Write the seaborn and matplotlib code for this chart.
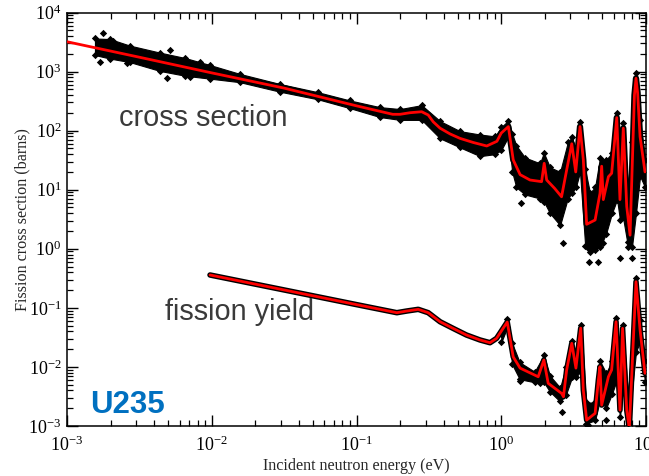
import numpy as np
import pandas as pd
import matplotlib
matplotlib.use("Agg")
import matplotlib.pyplot as plt
import seaborn as sns
from matplotlib.ticker import LogLocator, NullFormatter, LogFormatterSciNotation

# ---- evaluated fission cross section (red curve), energy in eV, sigma in barns
cs_energy = [0.001, 0.00316, 0.01, 0.0316, 0.1, 0.178, 0.2, 0.234, 0.282, 0.313,
             0.339, 0.378, 0.443, 0.519, 0.641, 0.794, 0.933, 1.0, 1.12, 1.21,
             1.35, 1.58, 1.90, 1.98, 2.06, 2.34, 2.61, 2.83, 3.07, 3.27,
             3.50, 3.69, 3.89, 4.45, 4.81, 4.94, 5.07, 5.50, 5.79, 6.28,
             6.61, 6.97, 7.36, 7.76, 8.32, 8.53, 8.75, 9.10, 9.84]
cs_sigma = [3200, 1750, 950, 525, 263, 189, 189, 201, 209, 184,
            141, 110, 88, 74, 63, 55, 66, 91, 117, 32,
            18, 14.6, 13.7, 28, 14.6, 10.5, 7.6, 21.5, 60, 20,
            117, 32, 2.6, 3.07, 8.7, 25, 6.8, 16.6, 19, 166,
            6.8, 110, 5.2, 1.7, 400, 770, 437, 79, 20]

# spread of the measured points around the cross section
cs_band_energy = [0.00156, 0.00198, 0.00272, 0.0044, 0.00653, 0.00973, 0.01567, 0.0295, 0.0542, 0.0902,
                  0.145, 0.2, 0.282, 0.378, 0.519, 0.713, 0.906, 1.0, 1.12, 1.19,
                  1.27, 1.46, 1.85, 1.97, 2.17, 2.55, 2.88, 3.09, 3.28, 3.50,
                  3.80, 4.10, 4.45, 4.81, 5.30, 5.82, 6.31, 6.61, 6.92, 7.52,
                  8.0, 8.53, 9.10, 9.84]
cs_band_high = [3630, 3550, 2750, 2090, 1700, 1290, 912, 617, 447, 324,
                250, 232, 270, 145, 98, 86, 80, 115, 148, 89,
                56, 35, 28, 42, 24, 20, 63, 79, 42, 141,
                22, 8.9, 11, 35, 32, 42, 200, 56, 135, 11,
                63, 933, 151, 32]
cs_band_low = [1905, 1660, 1445, 1023, 851, 759, 661, 457, 339, 240,
               170, 152, 152, 74, 52, 37, 40, 47, 79, 20,
               11, 8.3, 7.1, 6.3, 4.0, 2.5, 7.1, 8.9, 11, 20,
               1.12, 0.89, 0.95, 1.07, 1.8, 4.0, 6.8, 3.1, 3.5, 1.07,
               1.07, 4.0, 17, 11]

# isolated measured points of the cross section
cs_stray_energy = [0.00177, 0.00169, 0.00209, 0.00258, 0.00303, 0.00489, 0.00515, 0.00708, 0.0083, 0.0108,
                   1.38, 2.65, 4.04, 4.66, 3.95, 5.05, 6.6, 7.55, 8.0]
cs_stray_sigma = [4570, 1470, 3330, 1380, 1790, 769, 2320, 818, 1470, 871,
                  6.0, 1.24, 0.59, 0.59, 1.03, 1.24, 0.69, 1.3, 0.69]

# ---- fission yield (red curve)
fy_energy = [0.00973, 0.0316, 0.1, 0.19, 0.222, 0.267, 0.313, 0.378, 0.467, 0.575,
             0.713, 0.836, 0.929, 1.10, 1.21, 1.35, 1.80, 1.97, 2.11, 2.61,
             2.69, 2.83, 3.07, 3.28, 3.54, 3.69, 3.89, 4.45, 4.69, 4.81,
             4.94, 5.50, 5.79, 6.21, 6.61, 6.89, 7.36, 7.67, 8.53, 9.10,
             9.84]
fy_value = [0.36, 0.201, 0.1135, 0.0828, 0.0883, 0.0944, 0.0828, 0.0582, 0.0447, 0.0347,
            0.0286, 0.0257, 0.0305, 0.0575, 0.0148, 0.00955, 0.00682, 0.0131, 0.00528, 0.00357,
            0.00313, 0.00887, 0.0251, 0.00955, 0.0454, 0.00407, 0.00126, 0.00164, 0.00603, 0.0101,
            0.00226, 0.00682, 0.00891, 0.0582, 0.00186, 0.0451, 0.00186, 0.00091, 0.277, 0.0422,
            0.0078]

# spread of the measured yield points in the resonance region
fy_band_energy = [1.0, 1.10, 1.19, 1.34, 1.70, 1.97, 2.17, 2.55, 2.80, 3.09,
                  3.28, 3.56, 3.87, 4.45, 4.81, 5.30, 5.82, 6.21, 6.61, 6.92,
                  7.52, 8.53, 9.10, 9.84]
fy_band_high = [0.0355, 0.066, 0.025, 0.012, 0.0083, 0.0158, 0.0071, 0.00447, 0.01, 0.028,
                0.0112, 0.052, 0.0025, 0.0025, 0.0126, 0.0079, 0.0126, 0.0676, 0.0063, 0.052,
                0.00316, 0.316, 0.063, 0.0126]
fy_band_low = [0.026, 0.047, 0.011, 0.0062, 0.0055, 0.0055, 0.0038, 0.0026, 0.0034, 0.0068,
               0.0068, 0.0085, 0.0011, 0.00125, 0.0028, 0.002, 0.0035, 0.0055, 0.0014, 0.0045,
               0.0009, 0.018, 0.027, 0.0055]

fy_stray_energy = [1.85, 2.61, 3.98, 1.35, 5.3]
fy_stray_value = [0.00528, 0.00175, 0.00105, 0.0058, 0.00125]

x_ticks = [1e-3, 1e-2, 1e-1, 1e0, 1e1]
y_ticks = [1e-3, 1e-2, 1e-1, 1e0, 1e1, 1e2, 1e3, 1e4]

sns.set_theme(style="ticks")
plt.rcParams.update({
    "font.family": ["Liberation Serif", "DejaVu Serif"],
    "mathtext.fontset": "custom",
    "mathtext.rm": "Liberation Serif",
    "mathtext.it": "Liberation Serif:italic",
    "mathtext.bf": "Liberation Serif:bold",
    "axes.edgecolor": "black",
    "axes.linewidth": 1.1,
    "xtick.color": "black",
    "ytick.color": "black",
})

W, H = 649, 476
fig = plt.figure(figsize=(W / 100, H / 100), dpi=100)
left, right, top, bottom = 67, 646, 12.5, 426
ax = fig.add_axes([left / W, 1 - bottom / H, (right - left) / W, (bottom - top) / H])
ax.set_xscale("log")
ax.set_yscale("log")

cs = pd.DataFrame({"energy": cs_energy, "sigma": cs_sigma})
fy = pd.DataFrame({"energy": fy_energy, "value": fy_value})
cs_band = pd.DataFrame({"energy": cs_band_energy, "hi": cs_band_high, "lo": cs_band_low})
fy_band = pd.DataFrame({"energy": fy_band_energy, "hi": fy_band_high, "lo": fy_band_low})

# measured points: dense black cloud plus diamond markers
ax.fill_between(cs_band["energy"], cs_band["lo"], cs_band["hi"], color="black", lw=0.8, zorder=1)
ax.fill_between(fy_band["energy"], fy_band["lo"], fy_band["hi"], color="black", lw=0.8, zorder=1)
cs_measured = cs[cs["energy"] >= cs_band_energy[0]]
sns.lineplot(data=cs_measured, x="energy", y="sigma", sort=False, estimator=None,
             color="black", lw=4.5, ax=ax, zorder=2)
sns.lineplot(data=fy, x="energy", y="value", sort=False, estimator=None,
             color="black", lw=4.0, ax=ax, zorder=2)

edge_e = cs_band_energy + cs_band_energy + fy_band_energy + fy_band_energy + cs_stray_energy + fy_stray_energy
edge_v = cs_band_high + cs_band_low + fy_band_high + fy_band_low + cs_stray_sigma + fy_stray_value
sns.scatterplot(x=edge_e, y=edge_v, marker="D", s=14, color="black", linewidth=0, ax=ax, zorder=3)

# evaluated curves
sns.lineplot(data=cs, x="energy", y="sigma", sort=False, estimator=None,
             color="#ff0000", lw=2.0, ax=ax, zorder=4)
sns.lineplot(data=fy, x="energy", y="value", sort=False, estimator=None,
             color="#ff0000", lw=2.0, ax=ax, zorder=4)

ax.set_xlim(1e-3, 10)
ax.set_ylim(1e-3, 1e4)
ax.set_xticks(x_ticks)
ax.set_yticks(y_ticks)
ax.xaxis.set_major_formatter(LogFormatterSciNotation())
ax.yaxis.set_major_formatter(LogFormatterSciNotation())
for axis in (ax.xaxis, ax.yaxis):
    axis.set_minor_locator(LogLocator(base=10, subs=np.arange(2, 10), numticks=40))
    axis.set_minor_formatter(NullFormatter())
ax.tick_params(which="major", direction="in", length=8, width=1.0,
               top=True, right=True, labelsize=13)
ax.tick_params(axis="x", which="major", pad=7)
ax.tick_params(axis="y", which="major", pad=4)
ax.tick_params(which="minor", direction="in", length=4.5, width=0.9, top=True, right=True)
ax.set_xlabel("")
ax.set_ylabel("")
for s in ax.spines.values():
    s.set_visible(True)
    s.set_color("black")

fig.text(356 / W, 1 - 466 / H, "Incident neutron energy (eV)", ha="center", va="center", fontsize=11.6)
fig.text(22 / W, 1 - 220 / H, "Fission cross section (barns)", ha="center", va="center",
         rotation=90, fontsize=11.6)

sans = ["Liberation Sans", "DejaVu Sans"]
fig.text(119 / W, 1 - 126.5 / H, "cross section", ha="left", va="baseline",
         fontsize=20.8, color="#3a3a3a", family=sans)
fig.text(165 / W, 1 - 320 / H, "fission yield", ha="left", va="baseline",
         fontsize=20.8, color="#3a3a3a", family=sans)
fig.text(90 / W, 1 - 412.7 / H, "U235", ha="left", va="baseline",
         fontsize=22.5, color="#0070c0", fontweight="bold", family=sans)

fig.savefig("out.png", dpi=100)
